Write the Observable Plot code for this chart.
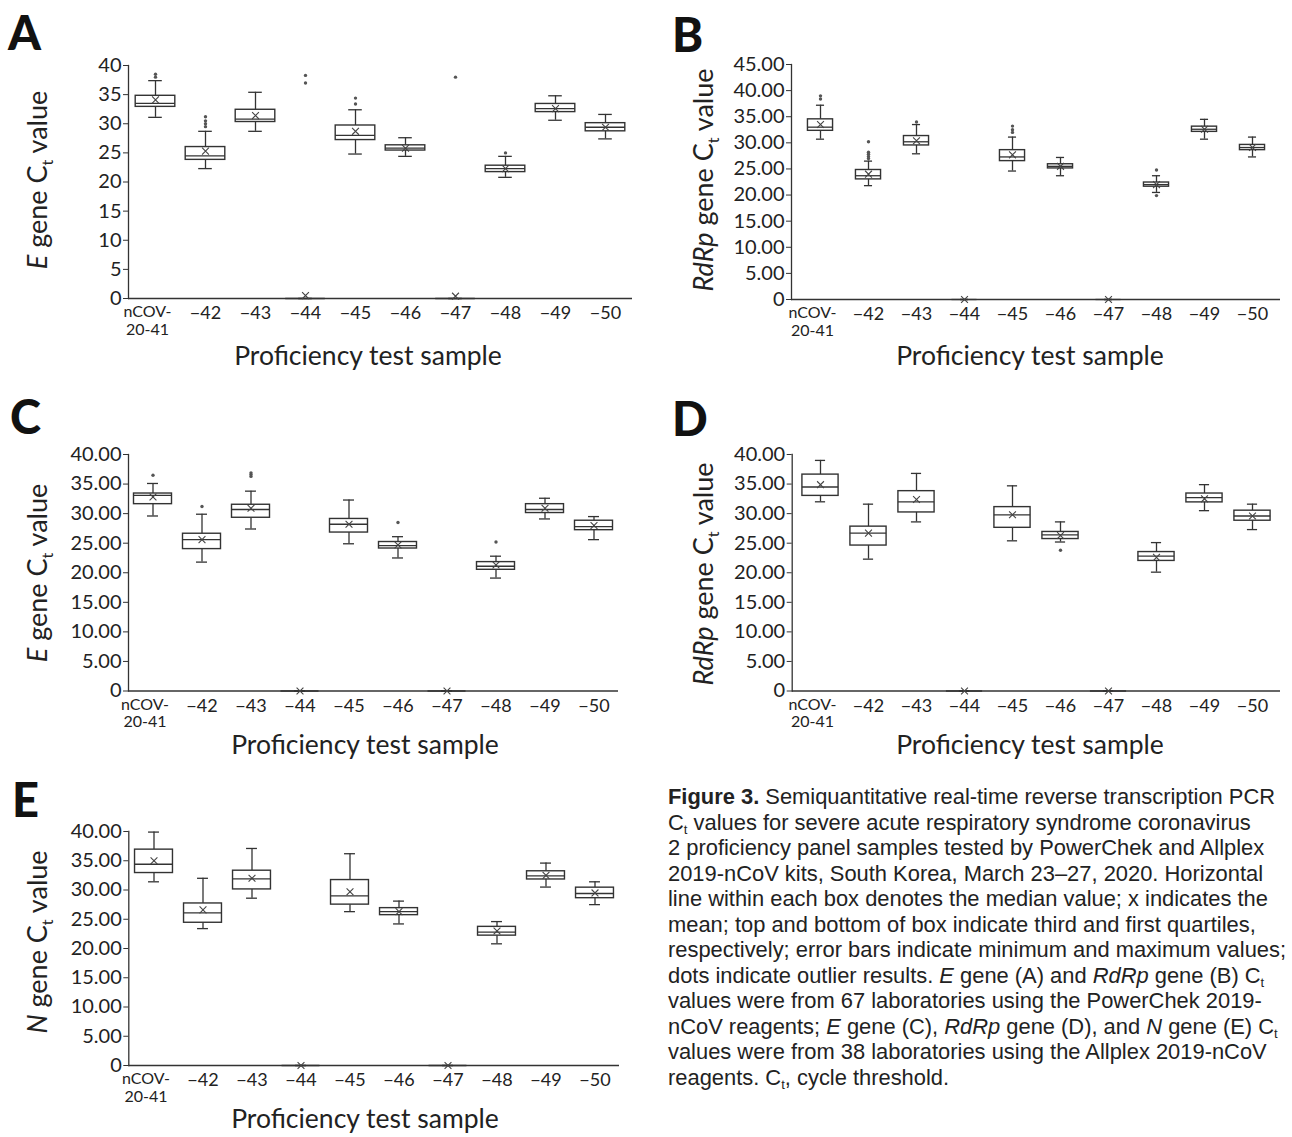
<!DOCTYPE html>
<html><head><meta charset="utf-8">
<script src="https://cdn.jsdelivr.net/npm/d3@7"></script>
<script src="https://cdn.jsdelivr.net/npm/@observablehq/plot@0.6"></script>
<style>
body{margin:0;background:#fff;}
#fig{position:relative;width:1292px;height:1137px;overflow:hidden;background:#fff;font-family:Lato,sans-serif;}
.panel{position:absolute;}
#caption{position:absolute;left:668px;top:784px;font-family:"Liberation Sans",Arial,sans-serif;font-size:21.9px;line-height:25.5px;color:#222;white-space:nowrap;}
#caption sub{font-size:0.6em;vertical-align:-0.3em;line-height:0;}
</style></head><body><div id="fig"></div>
<script>
// ---------- categories ----------
const samples = ["nCOV-20-41","−42","−43","−44","−45","−46","−47","−48","−49","−50"];

// ---------- Panel A: E gene, PowerChek ----------
const aLow  = [31.1, 22.3, 28.7, 0, 24.8, 24.4, 0, 20.8, 30.6, 27.4];
const aQ1   = [32.9, 23.8, 30.3, 0, 27.2, 25.4, 0, 21.7, 32.0, 28.7];
const aMed  = [33.5, 24.5, 30.8, 0, 28.0, 25.8, 0, 22.3, 32.6, 29.4];
const aQ3   = [34.8, 26.0, 32.4, 0, 29.7, 26.3, 0, 22.8, 33.4, 30.1];
const aHigh = [37.4, 28.7, 35.4, 0, 32.4, 27.6, 0, 24.4, 34.8, 31.6];
const aMean = [34.1, 25.3, 31.4, 0.5, 28.7, 25.8, 0.4, 22.3, 32.6, 29.4];
const aOutSample = ["nCOV-20-41","nCOV-20-41","−42","−42","−42","−42","−44","−44","−45","−45","−47","−48"];
const aOutValue  = [38.5, 38.0, 31.2, 30.5, 30.0, 29.5, 38.3, 37.0, 34.4, 33.4, 38.0, 25.0];

// ---------- Panel B: RdRp gene, PowerChek ----------
const bLow  = [30.7, 21.8, 27.9, 0, 24.6, 23.7, 0, 20.5, 30.7, 27.3];
const bQ1   = [32.3, 23.0, 29.5, 0, 26.5, 25.1, 0, 21.6, 32.1, 28.6];
const bMed  = [33.0, 23.7, 30.2, 0, 27.3, 25.5, 0, 22.0, 32.6, 29.1];
const bQ3   = [34.5, 24.8, 31.3, 0, 28.6, 25.9, 0, 22.4, 33.1, 29.6];
const bHigh = [37.2, 26.5, 33.5, 0, 31.1, 27.2, 0, 23.7, 34.5, 31.1];
const bMean = [33.5, 24.0, 30.4, 0, 27.7, 25.5, 0, 22.0, 32.6, 29.1];
const bOutSample = ["nCOV-20-41","nCOV-20-41","−42","−42","−42","−42","−42","−43","−45","−45","−45","−48","−48"];
const bOutValue  = [39.0, 38.4, 30.2, 28.2, 27.8, 27.4, 27.0, 34.0, 33.2, 32.5, 32.0, 24.8, 19.9];

// ---------- Panel C: E gene, Allplex ----------
const cLow  = [29.6, 21.8, 27.4, 0, 24.9, 22.5, 0, 19.1, 29.1, 25.6];
const cQ1   = [31.6, 24.0, 29.3, 0, 26.8, 24.1, 0, 20.5, 30.1, 27.2];
const cMed  = [33.1, 25.6, 30.7, 0, 28.2, 24.6, 0, 21.1, 30.7, 27.8];
const cQ3   = [33.4, 26.6, 31.5, 0, 29.1, 25.2, 0, 21.8, 31.6, 28.8];
const cHigh = [35.1, 29.9, 33.8, 0, 32.3, 26.1, 0, 22.8, 32.6, 29.5];
const cMean = [32.8, 25.6, 30.9, 0, 28.2, 24.7, 0, 21.3, 30.9, 28.0];
const cOutSample = ["nCOV-20-41","−42","−43","−43","−43","−46","−48"];
const cOutValue  = [36.5, 31.2, 36.9, 36.6, 36.3, 28.5, 25.2];

// ---------- Panel D: RdRp gene, Allplex ----------
const dLow  = [32.0, 22.3, 28.6, 0, 25.4, 25.2, 0, 20.1, 30.5, 27.3];
const dQ1   = [33.0, 24.6, 30.2, 0, 27.6, 25.7, 0, 22.0, 31.9, 28.8];
const dMed  = [34.5, 26.7, 32.0, 0, 29.8, 26.4, 0, 22.8, 32.7, 29.6];
const dQ3   = [36.6, 27.8, 33.8, 0, 31.1, 26.9, 0, 23.5, 33.4, 30.5];
const dHigh = [39.0, 31.6, 36.8, 0, 34.7, 28.6, 0, 25.1, 34.9, 31.6];
const dMean = [34.9, 26.7, 32.4, 0, 29.8, 26.3, 0, 22.6, 32.5, 29.6];
const dOutSample = ["−46"];
const dOutValue  = [23.8];

// ---------- Panel E: N gene, Allplex ----------
const eLow  = [31.4, 23.4, 28.6, 0, 26.3, 24.2, 0, 20.8, 30.5, 27.5];
const eQ1   = [32.9, 24.4, 30.1, 0, 27.5, 25.7, 0, 22.2, 31.8, 28.6];
const eMed  = [34.4, 26.1, 31.9, 0, 29.0, 26.3, 0, 22.8, 32.4, 29.4];
const eQ3   = [36.9, 27.7, 33.3, 0, 31.7, 26.9, 0, 23.7, 33.2, 30.4];
const eHigh = [39.9, 32.0, 37.1, 0, 36.2, 28.1, 0, 24.6, 34.6, 31.4];
const eMean = [35.0, 26.6, 32.0, 0, 29.7, 26.3, 0, 23.0, 32.5, 29.5];
const eOutSample = [];
const eOutValue  = [];

// ---------- build tables ----------
function rows(lo, q1, med, q3, hi, mean) {
  return samples.map((s, i) => ({sample: s, lo: lo[i], q1: q1[i], med: med[i], q3: q3[i], hi: hi[i], mean: mean[i]}));
}
function outs(ss, vs) { return ss.map((s, i) => ({sample: s, v: vs[i]})); }

const fmtInt = d => String(d);
const fmt2 = d => d === 0 ? "0" : d.toFixed(2);

const panels = [
  {data: rows(aLow,aQ1,aMed,aQ3,aHigh,aMean), out: outs(aOutSample,aOutValue), yMax: 40, fmt: fmtInt,
   L: {left: 0, top: 0, width: 645, height: 345, ml: 128, mr: 13, mt: 65, mb: 47}, box: 40, cap: 14},
  {data: rows(bLow,bQ1,bMed,bQ3,bHigh,bMean), out: outs(bOutSample,bOutValue), yMax: 45, fmt: fmt2,
   L: {left: 650, top: 0, width: 642, height: 345, ml: 141, mr: 12, mt: 64, mb: 46}, box: 26, cap: 9},
  {data: rows(cLow,cQ1,cMed,cQ3,cHigh,cMean), out: outs(cOutSample,cOutValue), yMax: 40, fmt: fmt2,
   L: {left: 0, top: 390, width: 640, height: 345, ml: 128, mr: 22, mt: 64, mb: 44.5}, box: 38, cap: 11},
  {data: rows(dLow,dQ1,dMed,dQ3,dHigh,dMean), out: outs(dOutSample,dOutValue), yMax: 40, fmt: fmt2,
   L: {left: 650, top: 390, width: 642, height: 345, ml: 141.7, mr: 12, mt: 64, mb: 44.5}, box: 37, cap: 11},
  {data: rows(eLow,eQ1,eMed,eQ3,eHigh,eMean), out: outs(eOutSample,eOutValue), yMax: 40, fmt: fmt2,
   L: {left: 0, top: 767, width: 640, height: 345, ml: 128.3, mr: 21, mt: 64, mb: 47}, box: 38, cap: 11}
];

const ink = "#333";
const fig = document.getElementById("fig");

for (const p of panels) {
  const L = p.L;
  const step = (L.width - L.ml - L.mr) / samples.length;
  const bi = (step - p.box) / 2, ci = (step - p.cap) / 2;
  const chart = Plot.plot({
    width: L.width, height: L.height,
    marginLeft: L.ml, marginRight: L.mr, marginTop: L.mt, marginBottom: L.mb,
    style: {fontFamily: "Lato, sans-serif", background: "transparent", color: "#222", overflow: "visible"},
    x: {type: "band", domain: samples, padding: 0},
    y: {domain: [0, p.yMax]},
    marks: [
      Plot.axisY(d3.range(0, p.yMax + 0.1, 5), {anchor: "left", tickSize: 5, tickPadding: 2, fontSize: 20, tickFormat: p.fmt, label: null, stroke: ink}),
      Plot.axisX([samples[0]], {anchor: "bottom", tickSize: 0, tickPadding: 6, fontSize: 16, lineHeight: 1.1, dx: -8, tickFormat: () => "nCOV-\n20-41", label: null}),
      Plot.axisX(samples.slice(1), {anchor: "bottom", tickSize: 0, tickPadding: 8, fontSize: 18, label: null}),
      Plot.frame({anchor: "left", stroke: ink, strokeWidth: 1.3}),
      Plot.ruleY([0], {stroke: ink, strokeWidth: 1.3}),
      Plot.ruleX(p.data, {x: "sample", y1: "lo", y2: "q1", stroke: ink, strokeWidth: 1.3}),
      Plot.ruleX(p.data, {x: "sample", y1: "q3", y2: "hi", stroke: ink, strokeWidth: 1.3}),
      Plot.tickY(p.data, {x: "sample", y: "lo", insetLeft: ci, insetRight: ci, stroke: ink, strokeWidth: 1.3}),
      Plot.tickY(p.data, {x: "sample", y: "hi", insetLeft: ci, insetRight: ci, stroke: ink, strokeWidth: 1.3}),
      Plot.barY(p.data, {x: "sample", y1: "q1", y2: "q3", insetLeft: bi, insetRight: bi, fill: "white", stroke: ink, strokeWidth: 1.4}),
      Plot.tickY(p.data, {x: "sample", y: "med", insetLeft: bi, insetRight: bi, stroke: ink, strokeWidth: 1.3}),
      Plot.dot(p.data, {x: "sample", y: "mean", symbol: "times", r: 3.2, stroke: "#444", strokeWidth: 1.1}),
      Plot.dot(p.out, {x: "sample", y: "v", r: 1.7, fill: "#555", stroke: "none"})
    ]
  });
  chart.classList.add("panel");
  chart.style.left = L.left + "px";
  chart.style.top = L.top + "px";
  chart.style.position = "absolute";
  fig.appendChild(chart);
}

// ---------- overlay text: panel letters and axis titles ----------
const ov = d3.select(fig).append("svg")
  .attr("width", 1292).attr("height", 1137)
  .style("position", "absolute").style("left", 0).style("top", 0)
  .style("pointer-events", "none")
  .attr("font-family", "Lato, sans-serif").attr("fill", "#111");

const letters = [["A", 8, 50], ["B", 672, 52], ["C", 10, 434], ["D", 672, 436], ["E", 12, 817]];
for (const [t, x, y] of letters) {
  ov.append("text").attr("x", x).attr("y", y).attr("font-size", 47).attr("font-weight", 900).text(t);
}

const yTitles = [
  {gene: "E", x: 47, y: 180},
  {gene: "RdRp", x: 713, y: 180},
  {gene: "E", x: 47, y: 573},
  {gene: "RdRp", x: 713, y: 574},
  {gene: "N", x: 47, y: 942}
];
for (const t of yTitles) {
  const tx = ov.append("text").attr("transform", `translate(${t.x},${t.y}) rotate(-90)`)
    .attr("text-anchor", "middle").attr("font-size", 27).attr("fill", "#222");
  tx.append("tspan").attr("font-style", "italic").text(t.gene);
  tx.append("tspan").text(" gene C");
  tx.append("tspan").attr("font-size", 16).attr("dy", 6).text("t");
  tx.append("tspan").attr("dy", -6).text(" value");
}

const xTitles = [[368, 365], [1030, 365], [365, 754], [1030, 754], [365, 1128]];
for (const [x, y] of xTitles) {
  ov.append("text").attr("x", x).attr("y", y).attr("text-anchor", "middle")
    .attr("font-size", 26.5).attr("fill", "#222").text("Proficiency test sample");
}

// ---------- caption ----------
const captionLines = [
  "<b>Figure 3.</b> Semiquantitative real-time reverse transcription PCR",
  "C<sub>t</sub> values for severe acute respiratory syndrome coronavirus",
  "2 proficiency panel samples tested by PowerChek and Allplex",
  "2019-nCoV kits, South Korea, March 23–27, 2020. Horizontal",
  "line within each box denotes the median value; x indicates the",
  "mean; top and bottom of box indicate third and first quartiles,",
  "respectively; error bars indicate minimum and maximum values;",
  "dots indicate outlier results. <i>E</i> gene (A) and <i>RdRp</i> gene (B) C<sub>t</sub>",
  "values were from 67 laboratories using the PowerChek 2019-",
  "nCoV reagents; <i>E</i> gene (C), <i>RdRp</i> gene (D), and <i>N</i> gene (E) C<sub>t</sub>",
  "values were from 38 laboratories using the Allplex 2019-nCoV",
  "reagents. C<sub>t</sub>, cycle threshold."
];
const cap = document.createElement("div");
cap.id = "caption";
cap.innerHTML = captionLines.map(l => `<div>${l}</div>`).join("");
fig.appendChild(cap);
</script></body></html>
